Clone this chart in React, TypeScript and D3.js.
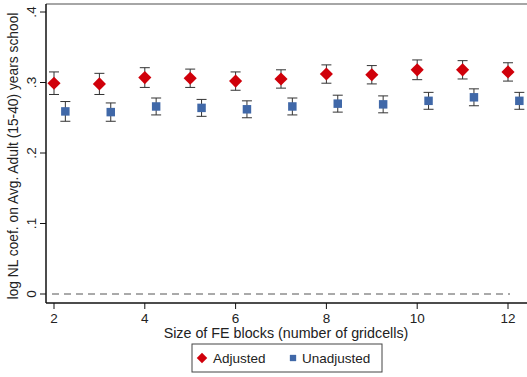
import React from "react";
import * as d3 from "d3";

// block sizes (number of gridcells)
const blocks = [2, 3, 4, 5, 6, 7, 8, 9, 10, 11, 12];
// point estimates
const adjusted = [0.299, 0.298, 0.307, 0.306, 0.302, 0.305, 0.312, 0.311, 0.318, 0.318, 0.315];
const unadjusted = [0.259, 0.258, 0.266, 0.264, 0.262, 0.266, 0.27, 0.269, 0.274, 0.279, 0.274];
// half-width of the confidence intervals
const adjustedCi = [0.016, 0.015, 0.014, 0.013, 0.013, 0.013, 0.013, 0.013, 0.014, 0.013, 0.013];
const unadjustedCi = [0.014, 0.013, 0.012, 0.012, 0.012, 0.012, 0.012, 0.012, 0.012, 0.012, 0.012];
const xTicks = [2, 4, 6, 8, 10, 12];
const yTicks = [0, 0.1, 0.2, 0.3, 0.4];
const yTickLabels = ["0", ".1", ".2", ".3", ".4"];

const W = 527;
const H = 377;
const font = "'Liberation Sans', Arial, sans-serif";
const red = "#d0000a";
const blue = "#4068a8";
const offset = 0.25;

export default function App() {
  const x = d3.scaleLinear().domain([2, 12]).range([54, 508]);
  const y = d3.scaleLinear().domain([0, 0.4]).range([294, 12]);
  const left = 46;
  const top = 4;
  const bottom = 303;

  const diamond = d3.symbol().type(d3.symbolDiamond2).size(110)();
  const square = d3.symbol().type(d3.symbolSquare).size(72)();

  const errBar = (cx: number, lo: number, hi: number, key: string) => (
    <g key={key} stroke="#333" strokeWidth={1}>
      <line x1={cx} x2={cx} y1={y(lo)} y2={y(hi)} />
      <line x1={cx - 5} x2={cx + 5} y1={y(lo)} y2={y(lo)} />
      <line x1={cx - 5} x2={cx + 5} y1={y(hi)} y2={y(hi)} />
    </g>
  );

  return (
    <svg
      width={W}
      height={H}
      style={{ position: "absolute", left: 0, top: 0, background: "#fff" }}
      fontFamily={font}
    >
      {/* frame */}
      <line x1={left} x2={W} y1={top} y2={top} stroke="#888" strokeWidth={1.5} />
      <line x1={left} x2={left} y1={top} y2={bottom} stroke="#111" strokeWidth={1.5} />
      <line x1={left} x2={W} y1={bottom} y2={bottom} stroke="#111" strokeWidth={1.5} />

      {/* zero line */}
      <line
        x1={left + 6}
        x2={510}
        y1={y(0)}
        y2={y(0)}
        stroke="#555"
        strokeWidth={1}
        strokeDasharray="7,5"
      />

      {/* y axis */}
      {yTicks.map((t, i) => (
        <g key={"y" + i}>
          <line x1={left - 6} x2={left} y1={y(t)} y2={y(t)} stroke="#111" />
          <text
            transform={`translate(${left - 10},${y(t)}) rotate(-90)`}
            textAnchor="middle"
            fontSize={13.5}
            fill="#222"
          >
            {yTickLabels[i]}
          </text>
        </g>
      ))}
      <text
        transform={`translate(18,156) rotate(-90)`}
        textAnchor="middle"
        fontSize={13.8}
        fill="#222"
      >
        log NL coef. on Avg. Adult (15-40) years school
      </text>

      {/* x axis */}
      {xTicks.map((t) => (
        <g key={"x" + t}>
          <line x1={x(t)} x2={x(t)} y1={bottom} y2={bottom + 6} stroke="#111" />
          <text x={x(t)} y={bottom + 20} textAnchor="middle" fontSize={13.5} fill="#222">
            {t}
          </text>
        </g>
      ))}
      <text x={286} y={bottom + 35} textAnchor="middle" fontSize={14.3} fill="#222">
        Size of FE blocks (number of gridcells)
      </text>

      {/* series */}
      {blocks.map((b, i) =>
        errBar(x(b), adjusted[i] - adjustedCi[i], adjusted[i] + adjustedCi[i], "ea" + i)
      )}
      {blocks.map((b, i) =>
        errBar(
          x(b + offset),
          unadjusted[i] - unadjustedCi[i],
          unadjusted[i] + unadjustedCi[i],
          "eu" + i
        )
      )}
      {blocks.map((b, i) => (
        <path key={"a" + i} d={diamond} transform={`translate(${x(b)},${y(adjusted[i])})`} fill={red} />
      ))}
      {blocks.map((b, i) => (
        <path
          key={"u" + i}
          d={square}
          transform={`translate(${x(b + offset)},${y(unadjusted[i])})`}
          fill={blue}
        />
      ))}

      {/* legend */}
      <rect x={192} y={344} width={190} height={28} fill="#fff" stroke="#444" strokeWidth={1} />
      <path d={d3.symbol().type(d3.symbolDiamond2).size(70)()} transform="translate(202,358)" fill={red} />
      <text x={213} y={363} fontSize={13.5} fill="#222">
        Adjusted
      </text>
      <path d={d3.symbol().type(d3.symbolSquare).size(40)()} transform="translate(293,358)" fill={blue} />
      <text x={302} y={363} fontSize={13.5} fill="#222">
        Unadjusted
      </text>
    </svg>
  );
}
